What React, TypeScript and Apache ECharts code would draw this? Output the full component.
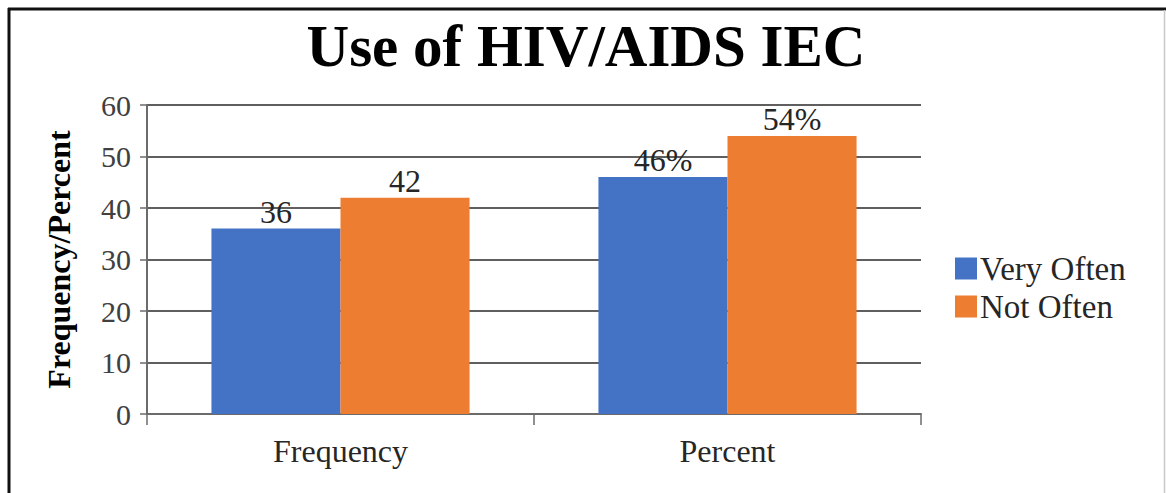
import React, { useEffect, useRef } from "react";
import * as echarts from "echarts";

const categories = ["Frequency", "Percent"];
const veryOften = [36, 46];
const notOften = [42, 54];
const labelSuffix = ["", "%"];
const seriesNames = ["Very Often", "Not Often"];
const titleText = "Use of HIV/AIDS IEC";
const yAxisName = "Frequency/Percent";

const FONT = "'Liberation Serif', 'Times New Roman', serif";

export default function App() {
  const ref = useRef<HTMLDivElement>(null);
  useEffect(() => {
    if (!ref.current) return;
    const chart = echarts.init(ref.current, undefined, { renderer: "svg" });
    const lbl = {
      show: true,
      position: "top" as const,
      distance: 1,
      fontFamily: FONT,
      fontSize: 32,
      color: "#262626",
      formatter: (p: any) => `${p.value}${labelSuffix[p.dataIndex]}`,
    };
    chart.setOption({
      animation: false,
      backgroundColor: "#ffffff",
      title: {
        text: titleText,
        left: 581,
        textAlign: "center",
        top: 11,
        textStyle: { fontFamily: FONT, fontSize: 59, fontWeight: "bold", color: "#000" },
      },
      legend: {
        orient: "vertical",
        left: 955,
        top: 252,
        padding: 0,
        itemWidth: 22,
        itemHeight: 22,
        itemGap: 5,
        icon: "rect",
        textStyle: { fontFamily: FONT, fontSize: 33, color: "#262626", padding: [0, 0, 0, -2] },
        data: seriesNames,
      },
      grid: { left: 147, right: 245, top: 105, bottom: 79, containLabel: false },
      xAxis: {
        type: "category",
        data: categories,
        axisLine: { lineStyle: { color: "#6b6b6b", width: 2 } },
        axisTick: { show: true, length: 11, alignWithLabel: false, lineStyle: { color: "#6b6b6b", width: 1.5 } },
        axisLabel: { fontFamily: FONT, fontSize: 32, color: "#262626", margin: 21 },
      },
      yAxis: {
        type: "value",
        min: 0,
        max: 60,
        interval: 10,
        name: yAxisName,
        nameLocation: "middle",
        nameGap: 72,
        nameTextStyle: { fontFamily: FONT, fontSize: 32, fontWeight: "bold", color: "#000" },
        axisLine: { show: true, lineStyle: { color: "#6b6b6b", width: 2 } },
        axisTick: { show: true, length: 7, lineStyle: { color: "#6b6b6b", width: 1.5 } },
        axisLabel: { fontFamily: FONT, fontSize: 30, color: "#404040", margin: 16 },
        splitLine: { show: true, lineStyle: { color: "#2a2a2a", width: 1.5 } },
      },
      series: [
        {
          name: seriesNames[0],
          type: "bar",
          data: veryOften,
          barGap: "0%",
          barCategoryGap: "33.3%",
          itemStyle: { color: "#4472C4" },
          label: lbl,
        },
        {
          name: seriesNames[1],
          type: "bar",
          data: notOften,
          barGap: "0%",
          barCategoryGap: "33.3%",
          itemStyle: { color: "#ED7D31" },
          label: lbl,
        },
      ],
      graphic: [
        { type: "line", shape: { x1: 8, y1: 9, x2: 1166, y2: 9 }, style: { stroke: "#111", lineWidth: 3 } },
        { type: "line", shape: { x1: 9, y1: 8, x2: 9, y2: 493 }, style: { stroke: "#111", lineWidth: 3 } },
        { type: "line", shape: { x1: 1164.5, y1: 10, x2: 1164.5, y2: 493 }, style: { stroke: "#c8c8c8", lineWidth: 1.5 } },
      ],
    });
    return () => chart.dispose();
  }, []);
  return (
    <div
      ref={ref}
      style={{ position: "absolute", left: 0, top: 0, width: 1166, height: 493 }}
    />
  );
}
